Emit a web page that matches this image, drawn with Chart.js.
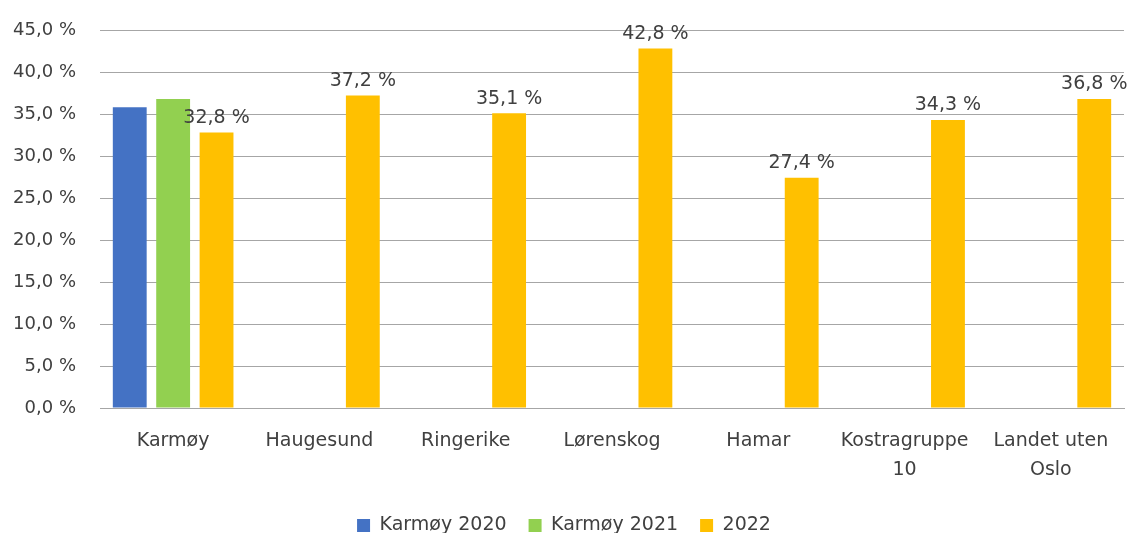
<!DOCTYPE html>
<html>
<head>
<meta charset="utf-8">
<script src="https://cdn.jsdelivr.net/npm/chart.js@4"></script>
<style>
  html, body { margin: 0; padding: 0; background: #fff; }
  #wrap { width: 1134px; height: 533px; }
</style>
</head>
<body>
<div id="wrap"><canvas id="chart"></canvas></div>
<script>
// Kategorier og verdier
const kategorier = ["Karmøy", "Haugesund", "Ringerike", "Lørenskog", "Hamar", ["Kostragruppe", "10"], ["Landet uten", "Oslo"]];
const karmoy2020 = [35.8, null, null, null, null, null, null];
const karmoy2021 = [36.8, null, null, null, null, null, null];
const verdier2022 = [32.8, 37.2, 35.1, 42.8, 27.4, 34.3, 36.8];

const fmt = (v) => v.toFixed(1).replace(".", ",") + " %";

// Verdietiketter kun for 2022
const etiketter = {
  id: "etiketter",
  afterDatasetsDraw(chart) {
    const ctx = chart.ctx;
    const meta = chart.getDatasetMeta(2);
    ctx.save();
    ctx.font = "19px 'DejaVu Sans'";
    ctx.fillStyle = "#404040";
    ctx.textAlign = "center";
    ctx.textBaseline = "bottom";
    meta.data.forEach((bar, i) => {
      const v = verdier2022[i];
      if (v == null) return;
      ctx.fillText(fmt(v), bar.x, bar.y - 5);
    });
    ctx.restore();
  },
};

const ctx = document.getElementById("chart").getContext("2d");
new Chart(ctx, {
  type: "bar",
  data: {
    labels: kategorier,
    datasets: [
      { label: "Karmøy 2020", data: karmoy2020, backgroundColor: "#4472C4" },
      { label: "Karmøy 2021", data: karmoy2021, backgroundColor: "#92D050" },
      { label: "2022", data: verdier2022, backgroundColor: "#FFC000" },
    ],
  },
  options: {
    responsive: true,
    maintainAspectRatio: false,
    animation: false,
    categoryPercentage: 0.89,
    barPercentage: 0.78,
    layout: { padding: { left: 4, right: 10, top: 30, bottom: -12 } },
    scales: {
      x: {
        grid: { display: false },
        border: { color: "#a6a6a6" },
        ticks: {
          color: "#404040",
          font: { family: "DejaVu Sans", size: 19, lineHeight: 1.55 },
          maxRotation: 0,
          padding: 10,
        },
        afterFit: (s) => { s.height = 86; s.paddingLeft = 0; s.paddingRight = 0; },
      },
      y: {
        min: 0,
        max: 45,
        ticks: {
          stepSize: 5,
          color: "#404040",
          font: { family: "DejaVu Sans", size: 18 },
          padding: 24,
          callback: (v) => fmt(v),
        },
        grid: { color: "#a6a6a6", drawTicks: false },
        border: { display: false },
        afterFit: (s) => { s.width = 96; s.paddingTop = 0; s.paddingBottom = 0; },
      },
    },
    plugins: {
      legend: {
        position: "bottom",
        labels: {
          color: "#404040",
          font: { family: "DejaVu Sans", size: 19 },
          boxWidth: 13,
          boxHeight: 13,
          padding: 22,
        },
      },
      tooltip: { enabled: false },
    },
  },
  plugins: [etiketter],
});
</script>
</body>
</html>
